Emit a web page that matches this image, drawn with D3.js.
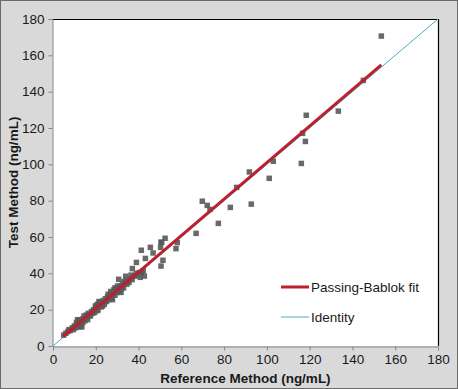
<!DOCTYPE html>
<html>
<head>
<meta charset="utf-8">
<script src="https://cdn.jsdelivr.net/npm/d3@7"></script>
<style>
  body { margin: 0; background: #fff; }
  svg { display: block; font-family: "Liberation Sans", Arial, sans-serif; }
</style>
</head>
<body>
<svg id="chart"></svg>
<script>
// Reference method values (x) and test method values (y)
const refVals = [
  5, 6, 7, 7.5, 8, 9, 9.5, 10, 10.5, 11, 11, 12, 12, 12.5, 13, 13, 13.5, 14, 14, 15,
  15.5, 16, 16.5, 17, 17.5, 18, 18.5, 19, 19.5, 20, 20.5, 21, 21, 22, 22, 22.5, 23, 23.5, 24, 24.5,
  25, 25.5, 26, 26.5, 27, 27, 27.5, 28, 28.5, 29, 29, 29.5, 30, 30, 30.7, 31, 31.5, 32, 32.5, 33,
  33.5, 34, 34.5, 35, 35.5, 36, 37.1, 37, 38, 39, 39, 38.7, 40.3, 40.8, 41.3, 42.2, 42.7, 41.3, 43.2, 45.5,
  46.8, 50.3, 50.5, 50.5, 51.4, 52.4, 57.5, 58.1, 50.8, 66.9, 69.8, 72.1, 73.4, 77.3, 82.9, 85.9, 91.8, 92.7,
  101.1, 103, 116.1, 116.7, 118, 118.4, 133.4, 145.1, 153.5,
  11.5, 12.8, 14.5, 16.2, 19.8, 21.5, 23.2, 25.8, 27.8, 30.2, 31.8, 33.2, 36.5, 12.2, 20.8
];
const testVals = [
  6, 7, 8, 9, 8.5, 10, 9, 11, 10, 12, 13, 11.5, 13.5, 14, 12, 14, 10.5, 13, 15, 14,
  17, 16, 18, 17, 16.5, 19, 18, 20, 18.5, 21, 22.5, 20, 23, 22, 24, 21.5, 23.5, 25, 23, 26,
  24.5, 27, 25.5, 28, 27, 30, 26.5, 29, 31, 28, 32, 30, 29.5, 31.5, 36.7, 30, 33, 31.5, 34, 32,
  35, 38.4, 34, 36, 35, 37, 42.6, 36.5, 38.5, 46, 40, 38.7, 40.4, 37.8, 40.5, 41.4, 38.5, 52.7, 48.2, 54.3,
  51.2, 54.3, 57.1, 44, 47.2, 59.3, 53.6, 56.9, 57.1, 62, 79.7, 77.4, 75.2, 67.5, 76.3, 87.3, 95.8, 78.1,
  92.3, 101.7, 100.5, 117.1, 112.6, 127, 129.3, 146.2, 170.6,
  14.5, 11, 16.5, 14.5, 22, 24.5, 22, 28.5, 25.5, 33, 29.5, 35.5, 39, 10.5, 19.5
];
const axisTicks = [0, 20, 40, 60, 80, 100, 120, 140, 160, 180];
// Passing-Bablok fit: slope, intercept, x range
const fitSlope = 1.005;
const fitIntercept = 0.5;
const fitRange = [4.8, 153.5];
const legendItems = ["Passing-Bablok fit", "Identity"];

const W = 458, H = 389;
const m = { left: 53, right: 20, top: 19, bottom: 43 };
const svg = d3.select('#chart').attr('width', W).attr('height', H);

// outer panel
svg.append('rect')
  .attr('x', 0.5).attr('y', 0.5)
  .attr('width', W - 1).attr('height', H - 1)
  .style('fill', '#d9d9d9')
  .style('stroke', '#6b6b6b');

const x = d3.scaleLinear().domain([0, 180]).range([m.left, W - m.right]);
const y = d3.scaleLinear().domain([0, 180]).range([H - m.bottom, m.top]);

// plot area
svg.append('rect')
  .attr('x', x(0)).attr('y', y(180))
  .attr('width', x(180) - x(0)).attr('height', y(0) - y(180))
  .style('fill', '#fff');

// top / right border
svg.append('path')
  .attr('d', `M${x(0)},${y(180) + 0.5}H${x(180) + 0.5}V${y(0)}`)
  .style('fill', 'none').style('stroke', '#000').style('stroke-width', 1.2);

const xAxis = svg.append('g')
  .attr('transform', `translate(0,${y(0) + 0.5})`)
  .call(d3.axisBottom(x).tickValues(axisTicks).tickSize(4).tickPadding(4));
const yAxis = svg.append('g')
  .attr('transform', `translate(${x(0) - 0.5},0)`)
  .call(d3.axisLeft(y).tickValues(axisTicks).tickSize(4).tickPadding(4));

[xAxis, yAxis].forEach(a => {
  a.select('.domain').style('stroke', '#868686');
  a.selectAll('.tick line').style('stroke', '#868686');
  a.selectAll('.tick text')
    .style('font-size', '13.5px')
    .style('fill', '#1a1a1a')
    .style('font-family', '"Liberation Sans", Arial, sans-serif');
});

// identity line
svg.append('line')
  .attr('x1', x(0)).attr('y1', y(0))
  .attr('x2', x(180)).attr('y2', y(180))
  .style('stroke', '#4bacc6')
  .style('stroke-width', 1);

// points
const pts = refVals.map((v, i) => ({ ref: v, test: testVals[i] }));
const sz = 5.5;
svg.append('g').selectAll('rect')
  .data(pts)
  .enter().append('rect')
  .attr('x', d => x(d.ref) - sz / 2)
  .attr('y', d => y(d.test) - sz / 2)
  .attr('width', sz).attr('height', sz)
  .style('fill', '#595959')
  .style('opacity', 0.9);

// fit line
svg.append('line')
  .attr('x1', x(fitRange[0])).attr('y1', y(fitIntercept + fitSlope * fitRange[0]))
  .attr('x2', x(fitRange[1])).attr('y2', y(fitIntercept + fitSlope * fitRange[1]))
  .style('stroke', '#be1e2d')
  .style('stroke-width', 3);

// legend
const legend = svg.append('g');
const legendColors = ['#be1e2d', '#4bacc6'];
const legendWidths = [3, 1];
legendItems.forEach((label, i) => {
  const ly = 287 + i * 30;
  legend.append('line')
    .attr('x1', 281).attr('x2', 309)
    .attr('y1', ly).attr('y2', ly)
    .style('stroke', legendColors[i])
    .style('stroke-width', legendWidths[i]);
  legend.append('text')
    .attr('x', 311).attr('y', ly + 5)
    .style('font-size', '13.5px')
    .style('fill', '#1a1a1a')
    .text(label);
});

// axis titles
svg.append('text')
  .attr('x', (x(0) + x(180)) / 2)
  .attr('y', 383)
  .attr('text-anchor', 'middle')
  .style('font-size', '13.5px')
  .style('font-weight', 'bold')
  .style('fill', '#1a1a1a')
  .text('Reference Method (ng/mL)');

svg.append('text')
  .attr('transform', `translate(18,${(y(0) + y(180)) / 2}) rotate(-90)`)
  .attr('text-anchor', 'middle')
  .style('font-size', '13.5px')
  .style('font-weight', 'bold')
  .style('fill', '#1a1a1a')
  .text('Test Method (ng/mL)');
</script>
</body>
</html>
